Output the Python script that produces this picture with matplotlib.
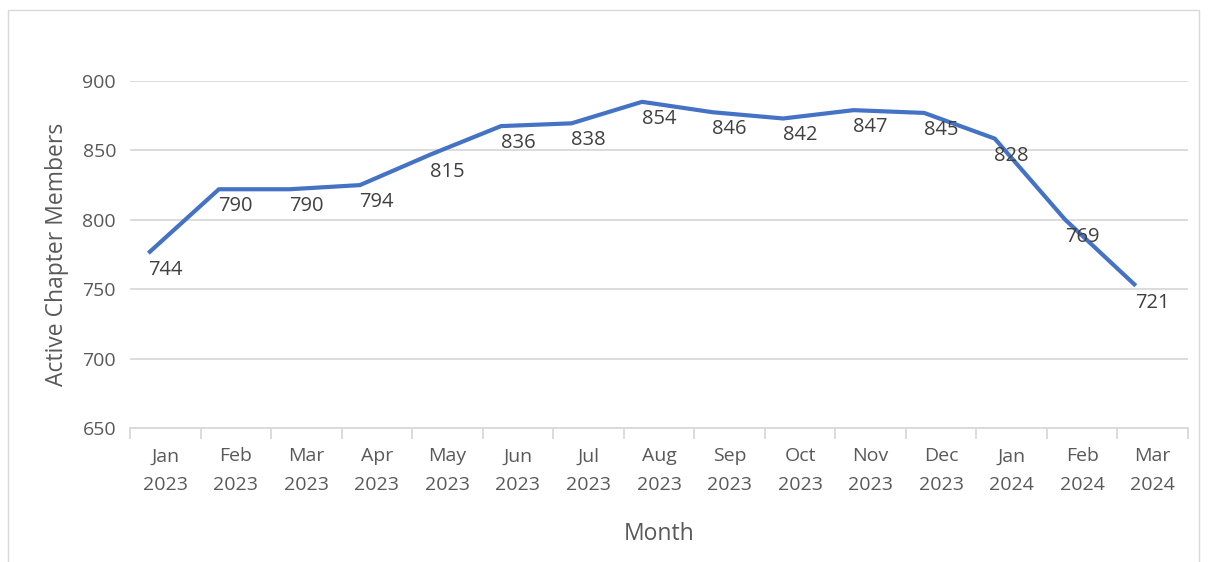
import numpy as np
import matplotlib
matplotlib.use("Agg")
import matplotlib.pyplot as plt
from matplotlib.patches import Rectangle

months = ["Jan\n2023", "Feb\n2023", "Mar\n2023", "Apr\n2023", "May\n2023", "Jun\n2023",
          "Jul\n2023", "Aug\n2023", "Sep\n2023", "Oct\n2023", "Nov\n2023", "Dec\n2023",
          "Jan\n2024", "Feb\n2024", "Mar\n2024"]
# data labels as printed on the chart
member_labels = [744, 790, 790, 794, 815, 836, 838, 854, 846, 842, 847, 845, 828, 769, 721]
# line heights as drawn on the chart
line_values = [776, 822, 822, 825, 847, 867.5, 869.5, 885, 877.5, 873, 879, 877, 858.5, 800, 752.5]

plt.rcParams["font.family"] = ["Open Sans", "DejaVu Sans"]
text_color = "#595959"

fig = plt.figure(figsize=(12.09, 5.62), dpi=100)
ax = fig.add_axes([130 / 1209, 1 - 428 / 562, 1058 / 1209, 347 / 562])

idx = np.arange(len(months))
shift = 0.24  # line sits a bit left of the category centres
ax.plot(idx - shift, line_values, color="#4472C4", linewidth=3, solid_joinstyle="round",
        solid_capstyle="butt", zorder=3)

for i, (v, lab) in enumerate(zip(line_values, member_labels)):
    ax.annotate(str(lab), xy=(i, v), xytext=(0, -17), textcoords="offset pixels",
                ha="center", va="center", fontsize=14.5, color="#404040", zorder=4)

ax.set_xlim(-0.5, len(months) - 0.5)
ax.set_ylim(650, 900)
ax.set_yticks(np.arange(650, 901, 50))
ax.yaxis.grid(True, color="#D9D9D9", linewidth=1.3)
ax.set_axisbelow(True)

ax.set_xticks(idx)
ax.set_xticklabels(months, linespacing=1.75)
ax.set_xticks(np.arange(-0.5, len(months), 1), minor=True)
ax.tick_params(axis="x", which="major", length=0, pad=14, labelsize=14, labelcolor=text_color)
ax.tick_params(axis="x", which="minor", length=8, color="#D9D9D9", width=1.3)
ax.tick_params(axis="y", length=0, pad=10, labelsize=14, labelcolor=text_color)

for s in ["top", "right", "left"]:
    ax.spines[s].set_visible(False)
ax.spines["bottom"].set_color("#D9D9D9")
ax.spines["bottom"].set_linewidth(1.3)

ax.set_ylabel("Active Chapter Members", fontsize=16.5, color=text_color, labelpad=10)
ax.set_xlabel("Month", fontsize=16.5, color=text_color, labelpad=20)

# chart area border
fig.patches.append(Rectangle((8 / 1209, -0.05), 1191 / 1209, 1.05 - 10 / 562,
                             transform=fig.transFigure, fill=False,
                             edgecolor="#D9D9D9", linewidth=1.0))

fig.savefig("out.png", dpi=100, facecolor="white")
